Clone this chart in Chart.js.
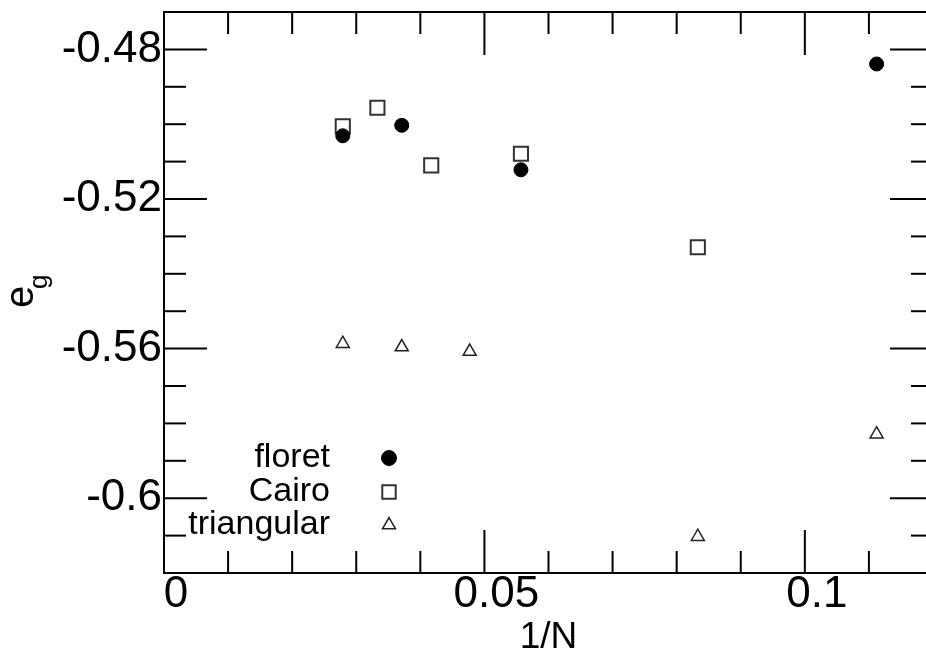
<!DOCTYPE html>
<html>
<head>
<meta charset="utf-8">
<script src="https://cdn.jsdelivr.net/npm/chart.js@4.4.0/dist/chart.umd.min.js"></script>
<style>
html, body { margin: 0; padding: 0; background: #fff; overflow: hidden; }
#wrap { width: 926px; height: 651px; overflow: hidden; }
</style>
</head>
<body>
<div id="wrap"><canvas id="myChart" width="945" height="651"></canvas></div>
<script>

// data
var floretX = [0.0279, 0.0371, 0.0557, 0.1112];
var floretY = [-0.5031, -0.5003, -0.5122, -0.4839];

var cairoX = [0.0279, 0.0333, 0.0417, 0.0557, 0.0833];
var cairoY = [-0.5006, -0.4956, -0.5110, -0.5079, -0.5329];

var triX = [0.0279, 0.0371, 0.0477, 0.0833, 0.1112];
var triY = [-0.5587, -0.5596, -0.5608, -0.6103, -0.5829];

var seriesNames = ['floret', 'Cairo', 'triangular'];

// axis ticks
var xMajorTicks = [0, 0.05, 0.1];
var xMinorTicks = [0.01, 0.02, 0.03, 0.04, 0.06, 0.07, 0.08, 0.09, 0.11];
var yMajorTicks = [-0.6, -0.56, -0.52, -0.48];
var yMinorTicks = [-0.61, -0.59, -0.58, -0.57, -0.55, -0.54, -0.53, -0.51, -0.50, -0.49];

function pts(xs, ys) {
  return xs.map(function (x, i) { return {x: x, y: ys[i]}; });
}

var FONT = "'Liberation Sans', Arial, sans-serif";

/* frame, inward ticks, y title and legend */
var framePlugin = {
  id: 'frame',
  afterDraw: function (chart) {
    var ctx = chart.ctx;
    var a = chart.chartArea;
    var sx = chart.scales.x, sy = chart.scales.y;
    ctx.save();
    ctx.strokeStyle = '#000';
    ctx.lineWidth = 2;
    ctx.strokeRect(a.left, a.top, a.right - a.left, a.bottom - a.top);

    function line(x1, y1, x2, y2) {
      ctx.beginPath();
      ctx.moveTo(x1, y1);
      ctx.lineTo(x2, y2);
      ctx.stroke();
    }
    function xTicks(list, len) {
      list.forEach(function (v) {
        var p = sx.getPixelForValue(v);
        line(p, a.bottom, p, a.bottom - len);
        line(p, a.top, p, a.top + len);
      });
    }
    function yTicks(list, len) {
      list.forEach(function (v) {
        var p = sy.getPixelForValue(v);
        line(a.left, p, a.left + len, p);
        line(a.right, p, a.right - len, p);
      });
    }
    xTicks(xMajorTicks, 43);
    xTicks(xMinorTicks, 22);
    yTicks(yMajorTicks, 43);
    yTicks(yMinorTicks, 22);

    // y title e_g
    ctx.fillStyle = '#000';
    ctx.translate(33, 308);
    ctx.rotate(-Math.PI / 2);
    ctx.textAlign = 'left';
    ctx.textBaseline = 'alphabetic';
    ctx.font = '40px ' + FONT;
    ctx.fillText('e', 0, 0);
    ctx.font = '26px ' + FONT;
    ctx.fillText('g', 19, 14);
    ctx.setTransform(1, 0, 0, 1, 0, 0);

    // legend
    var rowY = [458, 492, 525];
    chart.data.datasets.forEach(function (ds, i) {
      ctx.fillStyle = '#000';
      ctx.font = '34px ' + FONT;
      ctx.textAlign = 'right';
      ctx.textBaseline = 'middle';
      ctx.fillText(ds.label, 330, rowY[i]);
      ctx.fillStyle = ds.backgroundColor;
      ctx.strokeStyle = ds.borderColor;
      ctx.lineWidth = ds.borderWidth;
      Chart.helpers.drawPoint(ctx, {
        pointStyle: ds.pointStyle,
        radius: ds.legendRadius,
        rotation: 0,
        borderWidth: ds.borderWidth
      }, 389, rowY[i]);
    });
    ctx.restore();
  }
};

function noPad(s) {
  s.paddingTop = 0;
  s.paddingBottom = 0;
  s.paddingLeft = 0;
  s.paddingRight = 0;
}

var ctx = document.getElementById('myChart').getContext('2d');
var chart = new Chart(ctx, {
  type: 'scatter',
  data: {
    datasets: [{
      label: seriesNames[0],
      data: pts(floretX, floretY),
      pointStyle: 'circle',
      pointRadius: 7,
      legendRadius: 7.5,
      backgroundColor: '#000',
      borderColor: '#000',
      borderWidth: 1
    }, {
      label: seriesNames[1],
      data: pts(cairoX, cairoY),
      pointStyle: 'rect',
      pointRadius: 10,
      legendRadius: 9.5,
      backgroundColor: '#fff',
      borderColor: '#333',
      borderWidth: 2
    }, {
      label: seriesNames[2],
      data: pts(triX, triY),
      pointStyle: 'triangle',
      pointRadius: 7.5,
      legendRadius: 7.5,
      backgroundColor: '#fff',
      borderColor: '#222',
      borderWidth: 1.5
    }]
  },
  options: {
    responsive: false,
    animation: false,
    layout: { padding: { top: 12, right: 11, left: 0, bottom: 0 } },
    plugins: {
      legend: { display: false },
      tooltip: { enabled: false }
    },
    scales: {
      x: {
        type: 'linear',
        min: 0,
        max: 0.12,
        grid: { display: false, drawTicks: false },
        border: { display: false },
        ticks: {
          stepSize: 0.05,
          includeBounds: false,
          padding: 0,
          labelOffset: 12,
          maxRotation: 0,
          color: '#000',
          font: { family: FONT, size: 44, lineHeight: 1 },
          callback: function (v) { return String(+v.toFixed(4)); }
        },
        title: {
          display: true,
          text: '1/N',
          color: '#000',
          font: { family: FONT, size: 37, lineHeight: 1 },
          padding: { top: 0, bottom: -5 }
        },
        afterFit: function (s) { s.height = 78; noPad(s); }
      },
      y: {
        type: 'linear',
        min: -0.62,
        max: -0.47,
        grid: { display: false, drawTicks: false },
        border: { display: false },
        ticks: {
          stepSize: 0.04,
          includeBounds: false,
          padding: 2,
          color: '#000',
          font: { family: FONT, size: 44, lineHeight: 1 },
          callback: function (v) { return String(+v.toFixed(4)); }
        },
        afterFit: function (s) { s.width = 164; noPad(s); }
      }
    }
  },
  plugins: [framePlugin]
});
</script>
</body>
</html>
